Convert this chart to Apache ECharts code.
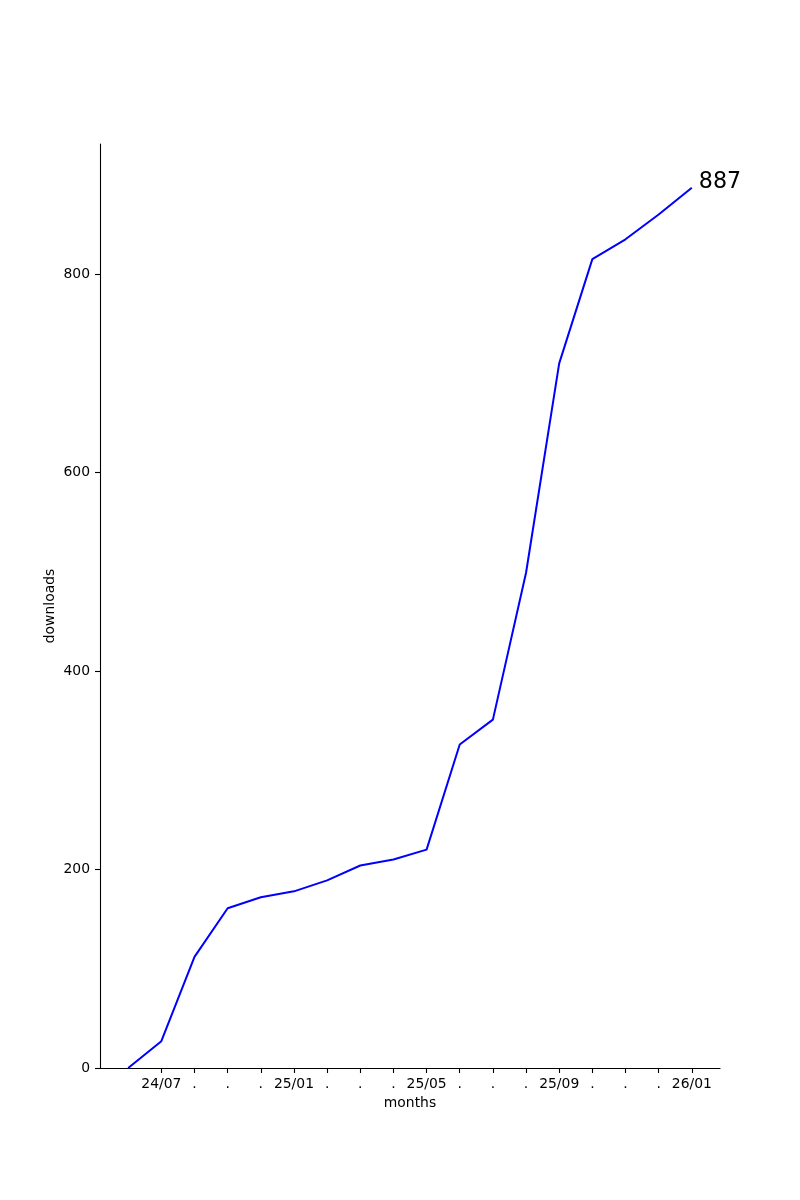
<!DOCTYPE html>
<html>
<head>
<meta charset="utf-8">
<script src="https://cdn.jsdelivr.net/npm/echarts@6/dist/echarts.min.js"></script>
<style>
html,body{margin:0;padding:0;background:#fff;}
#chart{width:800px;height:1200px;}
</style>
</head>
<body>
<div id="chart"></div>
<script>
// month index positions (0..17)
const monthIndex = [0,1,2,3,4,5,6,7,8,9,10,11,12,13,14,15,16,17];
const downloads = [0,27,112,161,172,178,189,204,210,220,326,351,499,710,815,835,860,887];
const tickPositions = [1,2,3,4,5,6,7,8,9,10,11,12,13,14,15,16,17];
const tickLabels = ['24/07','.','.','.','25/01','.','.','.','25/05','.','.','.','25/09','.','.','.','26/01'];
const yTicks = [0,200,400,600,800];

const font = 'DejaVu Sans';
const seriesData = monthIndex.map((x, i) => [x, downloads[i]]);

const chart = echarts.init(document.getElementById('chart'), null, {renderer: 'canvas'});
chart.setOption({
  animation: false,
  backgroundColor: '#fff',
  grid: { left: 100, right: 80, top: 144, bottom: 132, containLabel: false },
  xAxis: {
    type: 'value', min: -0.85, max: 17.85,
    name: 'months', nameLocation: 'middle', nameGap: 28,
    nameTextStyle: { fontFamily: font, fontSize: 13.9, color: '#000' },
    axisLine: { show: true, onZero: false, lineStyle: { color: '#000', width: 1.1 } },
    axisTick: { show: true, length: 5, lineStyle: { color: '#000', width: 1.1 }, customValues: tickPositions },
    axisLabel: {
      fontFamily: font, fontSize: 13.9, color: '#000', margin: 9,
      customValues: tickPositions,
      formatter: v => { const i = tickPositions.indexOf(Math.round(v)); return i >= 0 ? tickLabels[i] : ''; }
    },
    splitLine: { show: false }
  },
  yAxis: {
    type: 'value', min: 0, max: 931,
    name: 'downloads', nameLocation: 'middle', nameGap: 43, nameMoveOverlap: false,
    nameTextStyle: { fontFamily: font, fontSize: 13.9, color: '#000' },
    axisLine: { show: true, onZero: false, lineStyle: { color: '#000', width: 1.1 } },
    axisTick: { show: true, length: 5, lineStyle: { color: '#000', width: 1.1 }, customValues: yTicks },
    axisLabel: { fontFamily: font, fontSize: 13.9, color: '#000', margin: 10, customValues: yTicks },
    splitLine: { show: false }
  },
  series: [{
    type: 'line',
    data: seriesData,
    showSymbol: false,
    symbol: 'none',
    lineStyle: { color: '#0000ff', width: 2 },
    itemStyle: { color: '#0000ff' },
    endLabel: {
      show: true, distance: 7, offset: [0, -5],
      formatter: () => String(downloads[downloads.length - 1]),
      fontFamily: font, fontSize: 22.2, color: '#000'
    },
    clip: false
  }]
});
</script>
</body>
</html>
